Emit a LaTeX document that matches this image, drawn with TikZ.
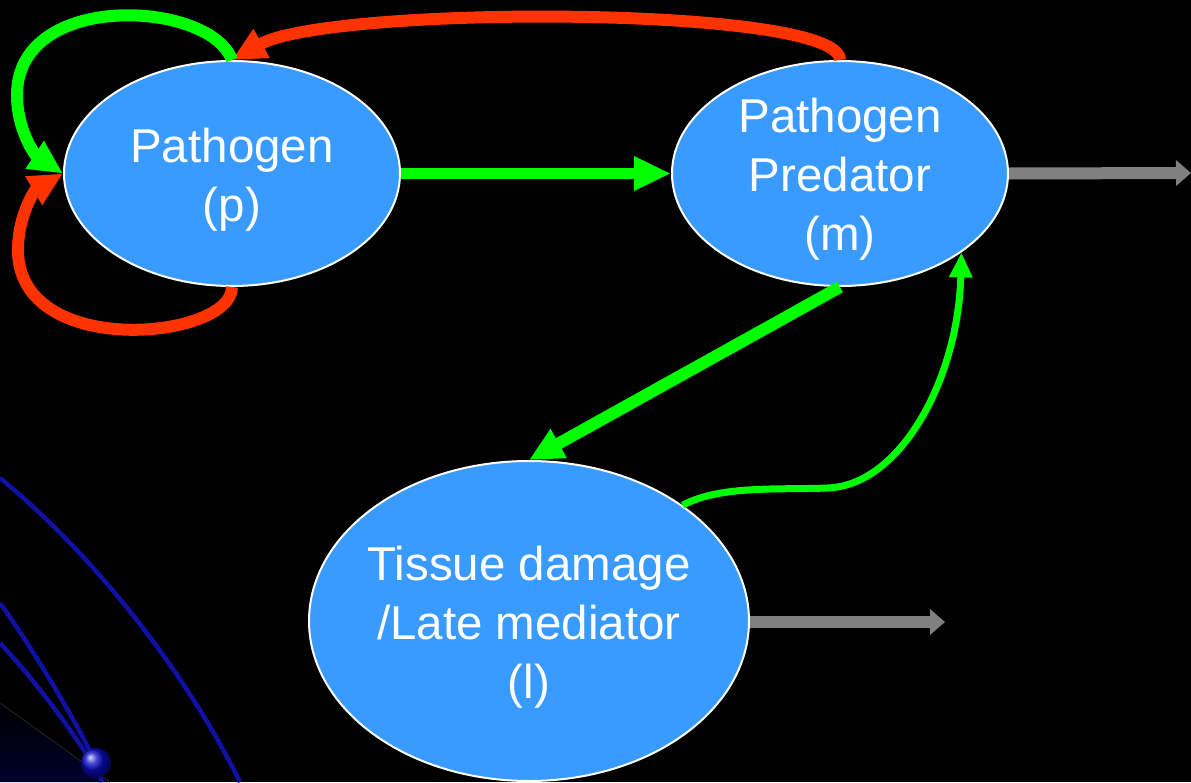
\documentclass[tikz,border=0pt]{standalone}
\usepackage{fontspec}
\setmainfont{Liberation Sans}
\usetikzlibrary{shapes.geometric,arrows.meta}
\definecolor{bubble}{RGB}{57,155,255}
\definecolor{arrgreen}{RGB}{0,255,0}
\definecolor{arrred}{RGB}{255,51,0}
\definecolor{arrgray}{RGB}{128,128,128}
\definecolor{decoblue}{RGB}{16,16,165}
\tikzset{
  bubble/.style={ellipse, draw=white, line width=2pt, fill=bubble, inner sep=0pt},
  bubbletext/.style={text=white, inner sep=0pt, align=center, font=\fontsize{47.5}{59}\selectfont},
  thickarr/.style={line width=12pt, -{Triangle[length=34pt,width=31pt]}},
  thinarr/.style={line width=7pt, -{Triangle[length=25pt,width=22pt]}},
  grayarr/.style={arrgray, line width=12pt, -{Triangle[length=15pt,width=25pt]}},
  deco/.style={decoblue, line width=4.5pt}
}
\begin{document}
\begin{tikzpicture}[x=1pt,y=-1pt]
\useasboundingbox (0,0) rectangle (1191,782);
\fill[black] (0,0) rectangle (1191,782);
% decoration bottom-left
\shade[top color=black, bottom color={rgb,255:red,0;green,0;blue,45}] (0,703) -- (110,782) -- (0,782) -- cycle;
\draw[gray!25!black, line width=1pt] (0,703) -- (110,782);
\draw[deco] (0,478) .. controls (100,560) and (190,680) .. (240,782);
\draw[deco] (0,603) .. controls (30,645) and (70,710) .. (96,763);
\draw[deco] (0,643) .. controls (30,675) and (65,720) .. (90,760);
\draw[deco] (96,763) -- (102,782);
\shade[ball color={rgb,255:red,10;green,10;blue,200}] (96,763) circle (15);
% nodes
\node[bubble, minimum width=336pt, minimum height=225pt] (p) at (232,173.5) {};
\node[bubble, minimum width=336pt, minimum height=225pt] (m) at (840,173.5) {};
\node[bubble, minimum width=440pt, minimum height=320pt] (l) at (529,621) {};
\node[bubbletext] (pt) at (232,180) {Pathogen\\(p)};
\node[bubbletext] (mt) at (840,179.5) {Pathogen\\Predator\\(m)};
\node[bubbletext] (lt) at (529,627.5) {Tissue damage\\ /Late mediator\\(l)};
\coordinate (g1) at (1191,173);
\coordinate (g2) at (945,622);
% connectors
\draw[arrgreen, line width=11pt, -{Triangle[length=37pt,width=32pt]}] (p.east) -- (m.west);
\draw[grayarr] (m.east) -- (g1);
\draw[grayarr] (l.east |- g2) -- (g2);
\draw[arrred, thickarr] (m.north) .. controls (840,5) and (330,5) .. (p.north);
\draw[arrgreen, thickarr] (p.north) .. controls (210,0) and (17,-10) .. (17,95) .. controls (17,130) and (35,155) .. (p.west);
\draw[arrred, thickarr] (p.south) .. controls (232,340) and (18,360) .. (18,250) .. controls (18,215) and (35,190) .. (p.west);
\draw[arrgreen, thickarr] (m.south) -- (l.north);
\draw[arrgreen, thinarr] (l.37) .. controls (720,485) and (780,490) .. (827,488) .. controls (900,486) and (958,380) .. (m.-33);
\end{tikzpicture}
\end{document}
